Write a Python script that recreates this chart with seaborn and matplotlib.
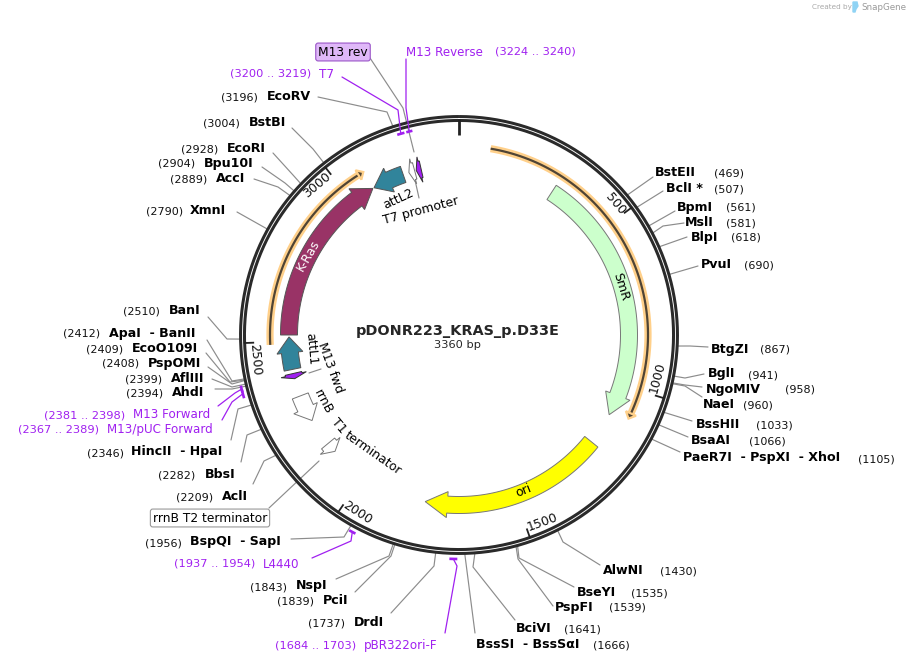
import numpy as np
import pandas as pd
import matplotlib
matplotlib.use("Agg")
import matplotlib.pyplot as plt
import seaborn as sns

# plasmid
plasmid_name = "pDONR223_KRAS_p.D33E"
plasmid_bp = 3360
tick_bp = [500, 1000, 1500, 2000, 2500, 3000]

# restriction sites, bp position of each
site_names = ["BstEII", "BclI *", "BpmI", "MslI", "BlpI", "PvuI", "BtgZI", "BglI", "NgoMIV", "NaeI",
              "BssHII", "BsaAI", "PaeR7I  - PspXI  - XhoI", "AlwNI", "BseYI", "PspFI", "BciVI",
              "BssSI  - BssSαI", "DrdI", "PciI", "NspI", "BspQI  - SapI", "AclI", "BbsI", "HincII  - HpaI",
              "AhdI", "AflIII", "PspOMI", "EcoO109I", "ApaI  - BanII", "BanI", "XmnI", "AccI", "Bpu10I",
              "EcoRI", "BstBI", "EcoRV"]
site_bp = [469, 507, 561, 581, 618, 690, 867, 941, 958, 960,
           1033, 1066, 1105, 1430, 1535, 1539, 1641,
           1666, 1737, 1839, 1843, 1956, 2209, 2282, 2346,
           2394, 2399, 2408, 2409, 2412, 2510, 2790, 2889, 2904,
           2928, 3004, 3196]

# primers
primer_names = ["T7", "M13 Reverse", "M13 Forward", "M13/pUC Forward", "L4440", "pBR322ori-F"]
primer_start = [3200, 3224, 2381, 2367, 1937, 1684]
primer_end = [3219, 3240, 2398, 2389, 1954, 1703]

# features: tail bp, head base bp, tip bp
feature_names = ["SmR", "ori", "K-Ras", "attL1", "attL2", "T7 promoter", "M13 rev", "M13 fwd",
                 "rrnB T1 terminator", "rrnB T2 terminator"]
feature_tail = [308, 1203, 2520, 2411, 3181, 3219, 3240, 2398, 2324, 2150]
feature_base = [1035, 1717, 3015, 2464, 3133, 3214, 3236, 2394, 2282, 2140]
feature_tip = [1101, 1787, 3076, 2514, 3080, 3200, 3224, 2381, 2238, 2117]
feature_fill = ["#ccffcc", "#ffff00", "#993366", "#31849b", "#31849b", "#ffffff", "#a020f0", "#a020f0",
                "#ffffff", "#ffffff"]
orange_tail = [90, 2492]
orange_tip = [1085, 3076]

# layout, in pixels of the 910x663 picture
CX, CY, R = 459, 335, 216.5
site_name_x = [655, 666, 677, 685, 691, 701, 711, 708, 706, 703, 696, 691, 683, 603, 577, 555, 516, 476, 354, 323,
               296, 190, 222, 205, 131, 172, 171, 148, 132, 109, 169, 190, 216, 204, 227, 249, 267]
site_num_x = [714, 714, 726, 726, 731, 744, 760, 748, 785, 743, 756, 749, 858, 660, 631, 609, 564, 593, 308, 277,
              250, 145, 176, 158, 87, 126, 125, 102, 86, 63, 123, 146, 170, 158, 181, 203, 221]
site_y = [172, 188, 207, 222, 237, 265, 349, 374, 389, 404, 425, 441, 458, 570, 592, 607, 629, 644, 623, 601,
          586, 542, 496, 474, 452, 393, 378, 363, 348, 333, 311, 210, 178, 163, 148, 123, 96]
site_elbow = [None, None, None, (663, 226), None, None, (690, 346), (685, 378), (685, 385), (685, 386),
              None, None, None, (563, 542), (519, 558), (518, 559), (473, 567), None, (434, 566), (391, 556),
              (389, 556), (344, 537), (264, 461), (247, 435), (238, 409), (232, 389), (232, 387), (232, 384),
              (230, 382), (232, 381), (227, 339), None, (278, 187), (285, 183), (293, 175), (313, 149),
              (387, 112)]
site_end = [(653, 177), (663, 191), (675, 211), (684, 223), (687, 237), (698, 266), (708, 347), (704, 374),
            (702, 387), (702, 397), (692, 421), (688, 437), (680, 452), (600, 565), (574, 587), (553, 606),
            (515, 620), (475, 633), (391, 613), (355, 592), (336, 579), (291, 539), (253, 484), (241, 462),
            (231, 440), (215, 389), (212, 379), (208, 367), (206, 353), (207, 340), (208, 317), (237, 212),
            (254, 179), (262, 167), (273, 153), (292, 128), (318, 97)]

primer_name_x = [319, 406, 133, 107, 263, 364]
primer_num_x = [230, 495, 44, 18, 174, 275]
primer_y = [74, 52, 415, 430, 564, 645]
primer_r = [209.5, 209.5, 224, 224, 224, 224]
primer_elbow = [(398, 110), (406, 108), (235, 393), (232, 402), (351, 541), (457, 566)]
primer_end_xy = [(342, 77), (406, 59), (218, 406), (222, 420), (312, 558), (445, 633)]
PURPLE = "#a020f0"


def bp_xy(bp, r):
    a = np.asarray(bp, dtype=float) / plasmid_bp * 2 * np.pi
    return CX + r * np.sin(a), CY - r * np.cos(a)


def arc(b0, b1, r, n=80):
    return bp_xy(np.linspace(b0, b1, n), r)


def arrow_poly(tail, base, tip, r=170, body=8.5, head=13):
    xo, yo = arc(tail, base, r + body)
    xi, yi = arc(base, tail, r - body)
    xh1, yh1 = bp_xy(base, r + head)
    xt, yt = bp_xy(tip, r)
    xh2, yh2 = bp_xy(base, r - head)
    x = np.r_[xo, xh1, xt, xh2, xi]
    y = np.r_[yo, yh1, yt, yh2, yi]
    return x, y


sns.set_theme(style="white")
plt.rcParams["font.family"] = ["DejaVu Sans"]

fig = plt.figure(figsize=(9.10, 6.63), dpi=100)
ax = fig.add_axes([0, 0, 1, 1])

# leader lines
rows = []
for i, bp in enumerate(site_bp):
    x0, y0 = bp_xy(bp, R + 2)
    pts = [(x0, y0)]
    if site_elbow[i] is not None:
        pts.append(site_elbow[i])
    pts.append(site_end[i])
    for k, (x, y) in enumerate(pts):
        rows.append({"site": site_names[i], "order": k, "x": x, "y": y})
# leaders of the features drawn on the plasmid
extra = [("M13 rev", [(370, 58), (403, 108), (414, 152)]),
         ("T7 promoter", [(415, 180), (419, 198)]),
         ("M13 fwd", [(309, 373), (321, 369)]),
         ("rrnB T2 terminator", [(269, 508), (319, 461)])]
for name, pts in extra:
    for k, (x, y) in enumerate(pts):
        rows.append({"site": name, "order": k, "x": x, "y": y})
leaders = pd.DataFrame(rows)
sns.lineplot(data=leaders, x="x", y="y", units="site", estimator=None, sort=False,
             color="#8c8c8c", linewidth=0.85, ax=ax, legend=False)

# ring
t = np.linspace(0, plasmid_bp, 720)
ax.plot(*bp_xy(t, R), color="#2a2a2a", lw=5.0, zorder=3, solid_capstyle="butt")
ax.plot(*bp_xy(t, R), color="white", lw=0.65, zorder=4)

# ticks
ax.plot(*bp_xy([0, 0], [200, R]), color="#222222", lw=2.0, zorder=3, solid_capstyle="butt")
for bp in tick_bp:
    ax.plot(*bp_xy([bp, bp], [205, R]), color="#222222", lw=1.3, zorder=3, solid_capstyle="butt")

tick_xy = [(615, 204), (657, 378), (542, 522), (357, 513), (255, 360), (317, 185)]
tick_rot = [-50, 75, 20, -33, -85, 40]
for bp, (x, y), rot in zip(tick_bp, tick_xy, tick_rot):
    ax.text(x, y, str(bp), fontsize=9, rotation=rot, rotation_mode="anchor", ha="center", va="center",
            color="#111111", zorder=6)

# orange arcs
for tail, tip in zip(orange_tail, orange_tip):
    sign = 1 if tip > tail else -1
    neck = tip - 16 * sign
    ax.plot(*arc(tail, neck, 189), color="#ffd08a", lw=5.2, zorder=2, solid_capstyle="butt")
    ax.plot(*arc(tail, neck, 189), color="#4f4435", lw=1.6, zorder=2.2, solid_capstyle="butt")
    x, y = arrow_poly(neck, neck, tip, r=189, body=0, head=5.5)
    ax.fill(x, y, facecolor="#4f4435", edgecolor="#ffd08a", lw=1.6, zorder=2.3)

# features
for i, name in enumerate(feature_names):
    x, y = arrow_poly(feature_tail[i], feature_base[i], feature_tip[i])
    edge = "#777777"
    if feature_fill[i] == PURPLE:
        edge = "#333333"
    if feature_fill[i] == "#993366" or feature_fill[i] == "#31849b":
        edge = "#555555"
    ax.fill(x, y, facecolor=feature_fill[i], edgecolor=edge, lw=0.7, zorder=5)

# primers
for i, name in enumerate(primer_names):
    x0, y0 = bp_xy((primer_start[i] + primer_end[i]) / 2, primer_r[i])
    ax.plot(*arc(primer_start[i], primer_end[i], primer_r[i], 10), color=PURPLE, lw=1.9, zorder=5.5,
            solid_capstyle="butt")
    px = [x0, primer_elbow[i][0], primer_end_xy[i][0]]
    py = [y0, primer_elbow[i][1], primer_end_xy[i][1]]
    sns.lineplot(x=px, y=py, sort=False, estimator=None, color=PURPLE, linewidth=0.9, ax=ax, zorder=5.5)
    num = f"({primer_start[i]} .. {primer_end[i]})"
    ax.text(primer_name_x[i], primer_y[i], name, color=PURPLE, fontsize=8.6, va="center", ha="left")
    ax.text(primer_num_x[i], primer_y[i], num, color=PURPLE, fontsize=8.2, va="center", ha="left")

# site labels
for i, name in enumerate(site_names):
    ax.text(site_name_x[i], site_y[i], name, fontsize=9.1, fontweight="bold", color="black", va="center", ha="left")
    ax.text(site_num_x[i], site_y[i] + 1, f"({site_bp[i]})", fontsize=8, color="#111111", va="center", ha="left")

# names on the map
map_text = [("K-Ras", 308, 255, 60, "white"), ("SmR", 621, 287, -73, "black"), ("ori", 523, 491, 22, "black"),
            ("attL2", 398, 199, 25, "black"), ("T7 promoter", 421, 211, 15, "black"),
            ("attL1", 311, 349, -85, "black"), ("M13 fwd", 330, 368, -70, "black"),
            ("rrnB", 323, 402, -62, "black"), ("T1", 339, 426, -50, "black"),
            ("terminator", 373, 453, -35, "black")]
for s, x, y, rot, col in map_text:
    ax.text(x, y, s, fontsize=9, rotation=rot, rotation_mode="anchor", ha="center", va="center", color=col, zorder=7)

# boxed labels
ax.text(343, 52, "M13 rev", fontsize=8.8, ha="center", va="center", color="black", zorder=7,
        bbox=dict(boxstyle="round,pad=0.2", facecolor="#dfb8f8", edgecolor="#9a55c8", lw=0.8))
ax.text(210, 518, "rrnB T2 terminator", fontsize=8.8, ha="center", va="center", color="black", zorder=7,
        bbox=dict(boxstyle="round,pad=0.2", facecolor="white", edgecolor="#999999", lw=0.8))

# centre
ax.text(458, 331, plasmid_name, fontsize=10.4, fontweight="bold", ha="center", va="center")
ax.text(458, 345, f"{plasmid_bp} bp", fontsize=8.2, ha="center", va="center")

# logo
ax.text(812, 7, "Created by", fontsize=5.2, color="#a8a8a8", va="center", ha="left")
ax.fill([853, 857, 858, 856, 855, 853], [2, 2, 6, 9, 12, 12], color="#8fd3f4")
ax.text(861, 7.5, "SnapGene", fontsize=6.3, color="#9a9a9a", va="center", ha="left")

ax.set_xlim(0, 910)
ax.set_ylim(663, 0)
ax.axis("off")

fig.savefig("out.png", dpi=100)
